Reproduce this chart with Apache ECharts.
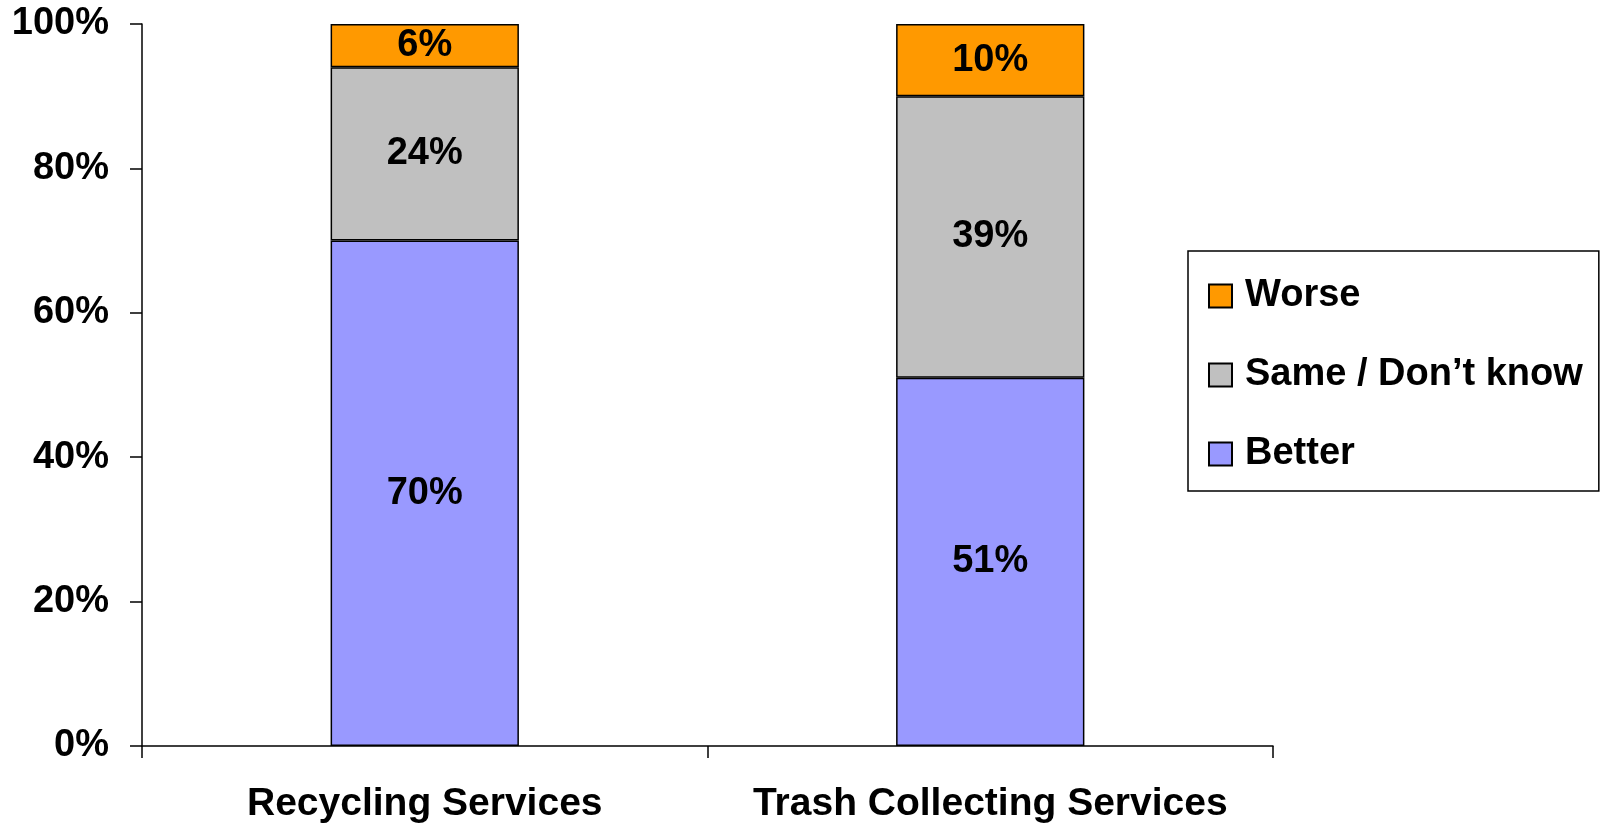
<!DOCTYPE html>
<html>
<head>
<meta charset="utf-8">
<script src="https://cdn.jsdelivr.net/npm/echarts@6/dist/echarts.min.js"></script>
<style>
  html, body { margin: 0; padding: 0; background: #fff; }
  #chart { width: 1604px; height: 829px; }
</style>
</head>
<body>
<div id="chart"></div>
<script>
  // categories and stacked shares (%)
  var categories = ['Recycling Services', 'Trash Collecting Services'];
  var better = [70, 51];
  var same = [24, 39];
  var worse = [6, 10];
  var yTicks = [0, 20, 40, 60, 80, 100];

  var font = '"Liberation Sans", Arial, sans-serif';

  var chart = echarts.init(document.getElementById('chart'));

  function barSeries(name, data, color) {
    return {
      name: name,
      type: 'bar',
      stack: 'total',
      barWidth: '33.3%',
      data: data,
      itemStyle: {
        color: color,
        borderColor: '#000',
        borderWidth: 1.5
      },
      label: {
        show: true,
        position: 'inside',
        formatter: '{c}%',
        color: '#000',
        fontFamily: font,
        fontWeight: 'bold',
        fontSize: 38
      }
    }
  }

  var option = {
    backgroundColor: '#fff',
    animation: false,
    grid: {
      left: 142,
      right: 331,
      top: 24,
      bottom: 83
    },
    legend: {
      orient: 'vertical',
      left: 1188,
      top: 251,
      data: ['Worse', 'Same / Don\u2019t know', 'Better'],
      itemWidth: 23,
      itemHeight: 23,
      itemGap: 35,
      padding: [23, 16, 15, 20],
      borderColor: '#000',
      borderWidth: 1.5,
      icon: 'rect',
      textStyle: {
        fontFamily: font,
        fontWeight: 'bold',
        fontSize: 38,
        lineHeight: 44,
        padding: [0, 0, 0, 8],
        color: '#000'
      }
    },
    xAxis: {
      type: 'category',
      data: categories,
      axisLine: { lineStyle: { color: '#000', width: 1.5 } },
      axisTick: { show: true, length: 12, lineStyle: { color: '#000', width: 1.5 } },
      axisLabel: {
        interval: 0,
        margin: 39,
        color: '#000',
        fontFamily: font,
        fontWeight: 'bold',
        fontSize: 39
      }
    },
    yAxis: {
      type: 'value',
      min: yTicks[0],
      max: yTicks[yTicks.length - 1],
      interval: 20,
      splitLine: { show: false },
      axisLine: { show: true, lineStyle: { color: '#000', width: 1.5 } },
      axisTick: { show: true, length: 12, lineStyle: { color: '#000', width: 1.5 } },
      axisLabel: {
        margin: 33,
        formatter: '{value}%',
        color: '#000',
        fontFamily: font,
        fontWeight: 'bold',
        fontSize: 38
      }
    },
    series: [
      barSeries('Better', better, '#9999FF'),
      barSeries('Same / Don\u2019t know', same, '#C0C0C0'),
      barSeries('Worse', worse, '#FF9900')
    ]
  };

  chart.setOption(option);
</script>
</body>
</html>
